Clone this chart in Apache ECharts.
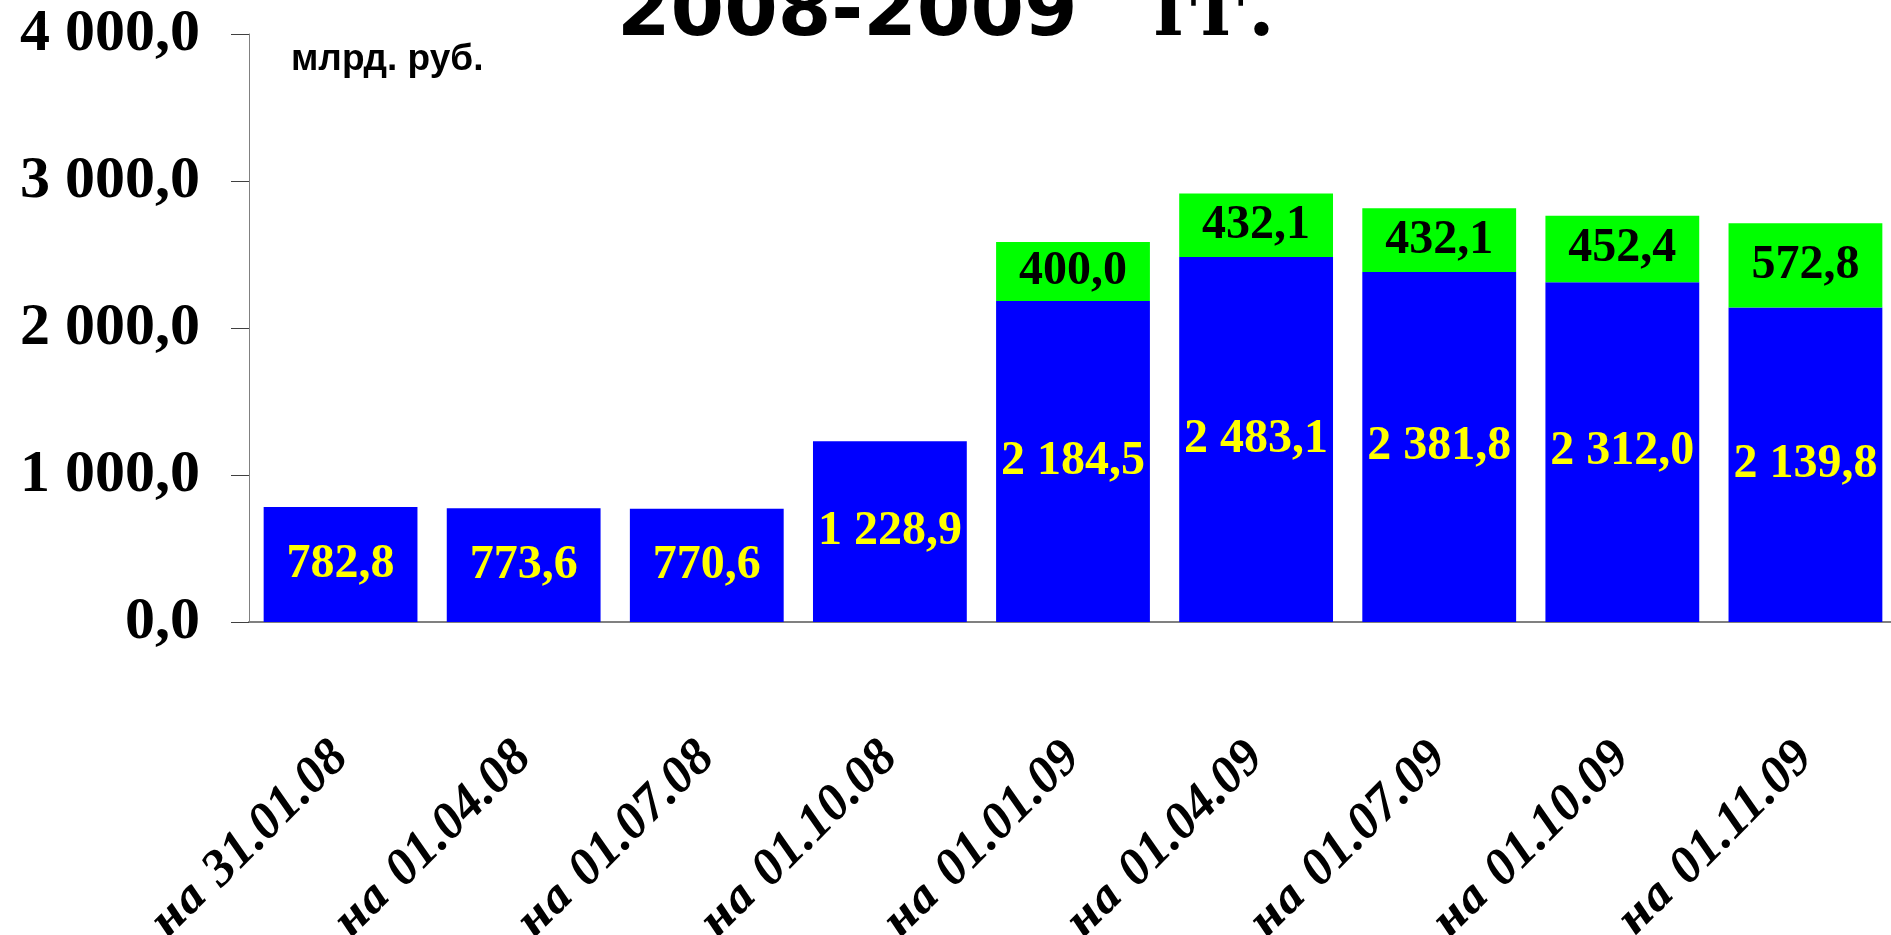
<!DOCTYPE html>
<html>
<head>
<meta charset="utf-8">
<title>2008-2009 гг.</title>
<script src="https://cdn.jsdelivr.net/npm/echarts@6/dist/echarts.min.js"></script>
<style>
  html, body { margin: 0; padding: 0; background: #fff; }
  #chart { width: 1891px; height: 935px; }
</style>
</head>
<body>
<div id="chart"></div>
<script>
const categories = ['на 31.01.08', 'на 01.04.08', 'на 01.07.08', 'на 01.10.08', 'на 01.01.09', 'на 01.04.09', 'на 01.07.09', 'на 01.10.09', 'на 01.11.09']
const blueValues = [782.8, 773.6, 770.6, 1228.9, 2184.5, 2483.1, 2381.8, 2312.0, 2139.8]
const greenValues = [null, null, null, null, 400.0, 432.1, 432.1, 452.4, 572.8]
const yTicks = [0, 1000, 2000, 3000, 4000]

// 2184.5 -> "2 184,5"
function fmt(v) {
  const [i, d] = Number(v).toFixed(1).split('.')
  return i.replace(/\B(?=(\d{3})+(?!\d))/g, ' ') + ',' + d
}

const serif = '"Liberation Serif", "Times New Roman", serif'
const chart = echarts.init(document.getElementById('chart'))

chart.setOption({
  animation: false,
  title: [
    {
      text: '{a|2008-2009}{b|гг.}',
      left: 612,
      top: -29,
      textStyle: {
        rich: {
          a: { fontFamily: '"DejaVu Sans", Verdana, sans-serif', fontWeight: 'bold', fontSize: 77, color: '#000' },
          b: { fontFamily: '"DejaVu Serif", serif', fontWeight: 'bold', fontSize: 77, color: '#000', padding: [0, 0, 0, 76] }
        }
      }
    },
    {
      text: 'млрд. руб.',
      left: 286,
      top: 36,
      textStyle: { fontFamily: '"Liberation Sans", Arial, sans-serif', fontWeight: 'bold', fontSize: 37, color: '#000' }
    }
  ],
  grid: { left: 249, right: -6, top: 34, bottom: 313, containLabel: false, outerBoundsMode: 'none' },
  xAxis: {
    type: 'category',
    data: categories,
    axisLine: { lineStyle: { color: '#808080', width: 2 } },
    axisTick: { length: 18, lineStyle: { color: '#404040' } },
    axisLabel: {
      interval: 0,
      rotate: 45,
      margin: 128,
      // "на" and the date set in separate runs so each gets its own font
      formatter: v => v.replace(/^(\S+) (.*)$/, '{c|$1 }{d|$2}'),
      rich: {
        c: { fontFamily: '"DejaVu Serif", serif', fontWeight: 'bold', fontStyle: 'italic', fontSize: 43, color: '#000' },
        d: { fontFamily: serif, fontWeight: 'bold', fontStyle: 'italic', fontSize: 52, color: '#000' }
      }
    }
  },
  yAxis: {
    type: 'value',
    min: yTicks[0],
    max: yTicks[yTicks.length - 1],
    interval: 1000,
    splitLine: { show: false },
    axisLine: { show: true, lineStyle: { color: '#808080', width: 1 } },
    axisTick: { show: true, length: 18, lineStyle: { color: '#404040' } },
    axisLabel: {
      margin: 49,
      formatter: fmt,
      fontFamily: serif,
      fontWeight: 'bold',
      fontSize: 60,
      color: '#000'
    }
  },
  series: [
    {
      type: 'bar',
      stack: 'total',
      data: blueValues,
      barCategoryGap: '16%',
      itemStyle: { color: '#0000ff' },
      label: {
        show: true,
        position: 'inside',
        formatter: p => fmt(p.value),
        fontFamily: serif,
        fontWeight: 'bold',
        fontSize: 48,
        color: '#ffff00'
      }
    },
    {
      type: 'bar',
      stack: 'total',
      data: greenValues,
      barCategoryGap: '16%',
      itemStyle: { color: '#00ff00' },
      label: {
        show: true,
        position: 'inside',
        formatter: p => fmt(p.value),
        fontFamily: serif,
        fontWeight: 'bold',
        fontSize: 48,
        color: '#000'
      }
    }
  ]
})
</script>
</body>
</html>
